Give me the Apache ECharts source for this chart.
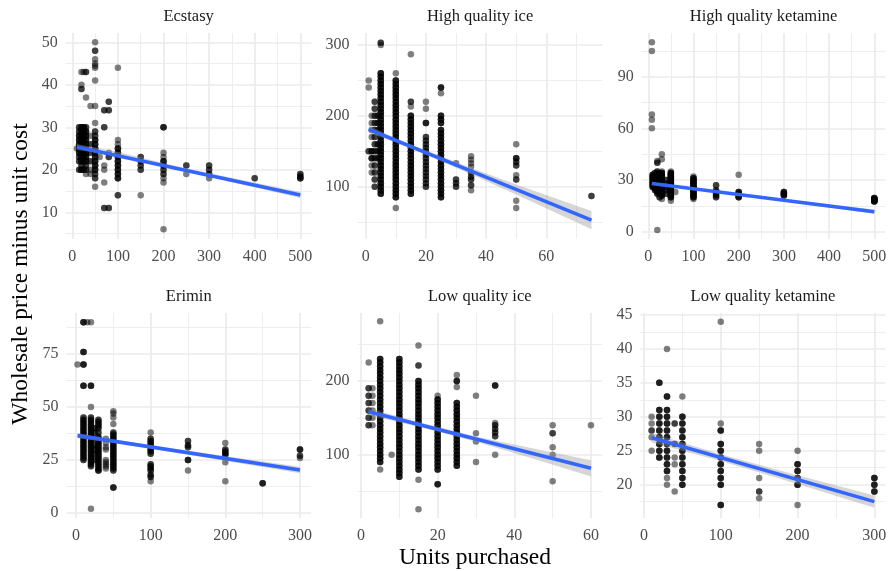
<!DOCTYPE html>
<html><head><meta charset="utf-8">
<script src="https://cdn.jsdelivr.net/npm/echarts@6/dist/echarts.min.js"></script>
<style>html,body{margin:0;padding:0;background:#fff}#c{width:889px;height:571px}</style>
</head><body><div id="c"></div>
<script>
// ---------- text ----------
const panelTitles = ['Ecstasy', 'High quality ice', 'High quality ketamine', 'Erimin', 'Low quality ice', 'Low quality ketamine'];
const xTitle = 'Units purchased';
const yTitle = 'Wholesale price minus unit cost';

// ---------- tick labels ----------
const xMajorTicks = [[0,100,200,300,400,500],[0,20,40,60],[0,100,200,300,400,500],[0,100,200,300],[0,20,40,60],[0,100,200,300]];
const xMinorTicks = [[50,150,250,350,450],[10,30,50,70],[50,150,250,350,450],[50,150,250],[10,30,50],[50,150,250]];
const yMajorTicks = [[10,20,30,40,50],[100,200,300],[0,30,60,90],[0,25,50,75],[100,200],[20,25,30,35,40,45]];
const yMinorTicks = [[5,15,25,35,45],[50,150,250],[15,45,75,105],[12.5,37.5,62.5,87.5],[50,150,250],[17.5,22.5,27.5,32.5,37.5,42.5]];
const xRanges = [[-14.5,524.5],[-2.7,78.7],[-14.5,524.5],[-12.9,314.9],[-0.91,62.9],[-4.5,314.5]];
const yRanges = [[3.8,52.2],[26.6,316.9],[-4.1,115.4],[-2.45,94.4],[13.8,292.4],[15.06,45.31]];

// ---------- points: [units, count of overlapping observations, [prices]] ----------
const ecstasyCols = [
  [10,1,[25]],
  [15,2,[20,22,23,29,30]],[15,3,[24,25,26,27,28]],
  [20,3,[20,22,23,24,25,26,27,28,29,30]],[20,2,[21,39]],[20,1,[40,43]],
  [25,2,[20,22]],[25,3,[23,24,25,26,27,28,29,30]],[25,1,[43]],
  [30,1,[19,37]],[30,2,[20,21,30,43]],[30,3,[22,23,24,25,26,27,28,29]],
  [40,1,[19,20,28,35]],[40,2,[22,24,26]],
  [50,1,[16,31,35,41,44,44.5,45,46,50]],[50,2,[18,19,28,29,48]],[50,3,[20,21,22,23,24,25,26,27]],
  [60,1,[23]],
  [70,2,[11,30,34]],[70,1,[17,20,21]],
  [80,2,[11,23,34,36]],[80,1,[24]],
  [100,2,[14]],[100,3,[18,19,20,21,22,23,24,25]],[100,1,[26,27,44]],
  [150,1,[14]],[150,2,[20,21,22,23]],
  [200,1,[6,17,18,23,24]],[200,2,[19,20]],[200,3,[21,22,30]],
  [250,1,[19]],[250,2,[21]],
  [300,1,[18]],[300,2,[19,20,21]],
  [400,2,[18]],
  [500,3,[18]],[500,2,[18.5,19]]
];
const hqIceCols = [
  [1,1,[240,250]],[1,2,[150]],
  [2,1,[120,130,170,180,190,200]],[2,3,[140,150]],
  [3,2,[100,110,120,130,140,150,160,170,180,190,200,210,220]],
  [4,2,[140,150,160,180,190,200]],
  [5,3,[90,95,100,105,110,115,120,125,130,135,140,145,150,155,160,165,170,175,180,185,190,195,200,205,210,215,220,225,230,235,240,245,250,255,260]],[5,1,[300]],[5,2,[303]],
  [10,3,[85,90,95,100,105,110,115,120,125,130,135,140,145,150,155,160,165,170,175,180,185,190,195,200,205,210,215,220,225,230,235,240,245,250]],[10,1,[70,260]],
  [15,3,[90,95,100,105,110,115,120,125,130,135,140,145,150,155,160,165,170,175,180,185,190,195,200]],[15,2,[220]],[15,1,[213,287]],
  [20,2,[100,105,110,115,120,125,130,135,140,145,150,155,160,165,170]],[20,3,[190]],[20,1,[210,220]],
  [25,3,[85,90,95,100,105,110,115,120,125,130,135,140,145,150,155,160,165,170,175,180,190,195,200,240]],[25,1,[232]],
  [30,1,[133]],[30,2,[100,105,110]],
  [35,1,[95,128,133,138,143]],[35,2,[102,110,114,120]],
  [50,1,[70,80,116,160]],[50,2,[110,130,135]],[50,3,[140]],
  [75,2,[87]]
];
const hqKetCols = [
  [8,1,[60,65,68,105,110]],
  [10,3,[26,27,28,29,30,31,32,33]],
  [15,2,[24,25,26,27,28,29,30,31,32,33,34]],
  [20,2,[22,23,24,25,26,27,28,29,30,31,32,33,34,35,40]],[20,1,[1,41]],
  [25,2,[20,22,24,26,28,30,32]],
  [30,3,[21,22,23,24,25,26,27,28,29,30,31,32,33,34]],[30,1,[19,35,42,45]],
  [40,2,[22,24,26,28,30]],
  [50,3,[20,21,22,23,24,25,26,27,28,29,30,31,32,33,34]],[50,1,[18,35]],
  [60,1,[23]],
  [100,3,[20,21,22,23,24,25,26,27,28,29,30,31]],[100,1,[19,32]],
  [150,2,[20,21,22,23,24,27]],
  [200,1,[33]],[200,3,[20,21,22,23]],
  [300,3,[21,22,23]],
  [500,3,[17.5,18,18.5,19,19.5]]
];
const eriminCols = [
  [2,1,[70]],
  [10,3,[60,70,76,90]],[10,2,[25,26,27,28,29,30,31,32,33,34,35,36,37,38,39,40,41,42,43,44,45]],
  [15,1,[90]],
  [20,1,[2,50,90]],[20,3,[60]],[20,2,[22,23,24,25,26,27,28,29,30,31,32,33,34,35,36,37,38,39,40,41,42,43,44,45]],
  [25,2,[25,28,30,32,35,38,40]],
  [30,2,[21,22,23,24,25,26,27,28,29,30,31,32,33,34,35,36,38,40,41,42,43,44]],[30,3,[20]],
  [40,1,[21,22,23,24,25,30,31,33,35]],
  [50,1,[42,45,47,48]],[50,2,[20,21,22,23,24,25,26,27,28,29,30,31,32,33,34,35,36,37,38]],[50,3,[12]],
  [100,1,[15,38]],[100,2,[17,18,20,21,22,23,28,29,30,31,32,33,34,35]],
  [150,1,[20]],[150,2,[31,32,34]],[150,3,[25]],
  [200,1,[15,24,33]],[200,2,[27.5,28,29,30]],
  [250,3,[14]],
  [300,3,[30]],[300,2,[27]],[300,1,[26]]
];
const lqIceCols = [
  [2,1,[225]],[2,2,[140,150,160,170,180,190]],
  [3,1,[140,150,160,170,180,190]],
  [5,3,[90,95,100,105,110,115,120,125,130,135,140,145,150,155,160,165,170,175,180,185,190,195,200,205,210,215,220,225,230]],[5,1,[80,281]],
  [8,1,[100]],
  [10,3,[70,75,80,85,90,95,100,105,110,115,120,125,130,135,140,145,150,155,160,165,170,175,180,185,190,195,200,205,210,215,220,225,230]],
  [15,3,[80,85,90,95,100,105,110,115,120,125,130,135,140,145,150,155,160,165,170,175,180,185,190,195,200]],[15,2,[221]],[15,1,[26,66,248]],
  [20,3,[60,80,85,90,95,100,105,110,115,120,125,130,135,140,145,150,155,160,165,170,175]],[20,1,[180]],
  [25,3,[85,90,95,100,105,110,115,120,125,130,135,140,145,150,155,160,165,170,200]],[25,1,[192,208]],
  [30,1,[90,118,129,180]],
  [35,3,[194]],[35,2,[125,130,135,140]],[35,1,[100,143]],
  [50,1,[64,100,110,140]],[50,2,[129]],
  [60,1,[140]]
];
const lqKetCols = [
  [10,1,[25,27,29,30]],[10,2,[28]],
  [20,3,[24,25,26,27,28,29,30,31,35]],
  [30,3,[22,23,24,25,26,27,28,29,30,31,33]],[30,1,[20,21,40]],
  [40,2,[26,29]],[40,1,[19,23,24]],
  [50,1,[33]],[50,3,[20,21,22,23,24,25,26,27,28,29,30]],
  [100,1,[29,44]],[100,3,[17,20,21,22,23,24,25,26,28]],
  [150,1,[18,21,25,26]],[150,2,[19]],
  [200,1,[17,25]],[200,3,[20,21,22,23]],
  [300,3,[19,20,21]]
];
const pointCols = [ecstasyCols, hqIceCols, hqKetCols, eriminCols, lqIceCols, lqKetCols];

// ---------- linear fit: [units, fitted] ----------
const fitLines = [
  [[10,25.4],[500,14.1]],
  [[1,181],[75,52.8]],
  [[8,28],[500,11.6]],
  [[2,36.5],[300,20.3]],
  [[2,158.3],[60,81.5]],
  [[10,26.9],[300,17.5]]
];
// ---------- confidence band: [units, lower, upper] ----------
const bands = [
  [[10,24.7,26.1],[100,23.3,24.2],[250,19.6,20.3],[500,13.4,14.8]],
  [[1,176,186],[10,162.4,168.4],[20,145.1,151.1],[35,117.6,126.6],[50,89.1,103.1],[75,39.8,65.8]],
  [[8,27.1,28.9],[100,24.4,25.5],[250,19.4,20.5],[500,10.4,12.8]],
  [[2,35.3,37.7],[50,33.1,34.7],[150,27.5,29.4],[300,18.8,21.8]],
  [[2,153.5,163],[15,138,144.2],[30,117.6,124.8],[45,94.5,108.3],[60,70.5,92.5]],
  [[10,26.2,27.6],[100,23.5,24.5],[200,20.1,21.4],[300,16.6,18.4]]
];

// ---------- layout ----------
const boxes = [
  {left:65.7, top:33, width:245.8, height:205.7},
  {left:357.6, top:33, width:245, height:205.7},
  {left:641.7, top:33, width:243.7, height:205.7},
  {left:66.4, top:312.9, width:244.7, height:205.3},
  {left:357.5, top:312.9, width:244.6, height:205.3},
  {left:640.5, top:312.9, width:245, height:205.3}
];
const FONT = '"Liberation Serif", "Times New Roman", serif';

function expand(cols) {
  const out = [];
  cols.forEach(([x, n, ys]) => ys.forEach(y => { for (let i = 0; i < n; i++) out.push([x, y]); }));
  return out;
}

const grids = [], xAxes = [], yAxes = [], series = [], graphics = [];
boxes.forEach((b, i) => {
  grids.push(Object.assign({containLabel:false, outerBoundsMode:'none'}, b));
  const lbl = {color:'#4D4D4D', fontFamily:FONT, fontSize:16};
  // major axes
  xAxes.push({type:'value', gridIndex:i, min:xRanges[i][0], max:xRanges[i][1],
    axisLine:{show:false}, axisTick:{show:false, customValues:xMajorTicks[i]},
    axisLabel:Object.assign({customValues:xMajorTicks[i], margin:10}, lbl),
    splitLine:{show:true, lineStyle:{color:'#EBEBEB', width:1.7}}, z:1});
  yAxes.push({type:'value', gridIndex:i, min:yRanges[i][0], max:yRanges[i][1],
    axisLine:{show:false}, axisTick:{show:false, customValues:yMajorTicks[i]},
    axisLabel:Object.assign({customValues:yMajorTicks[i], margin:8}, lbl),
    splitLine:{show:true, lineStyle:{color:'#EBEBEB', width:1.7}}, z:1});
  // minor axes (gridlines only)
  xAxes.push({type:'value', gridIndex:i, min:xRanges[i][0], max:xRanges[i][1],
    axisLine:{show:false}, axisTick:{show:false, customValues:xMinorTicks[i]},
    axisLabel:{show:false, customValues:xMinorTicks[i]},
    splitLine:{show:true, lineStyle:{color:'#EBEBEB', width:0.85}}, z:0});
  yAxes.push({type:'value', gridIndex:i, min:yRanges[i][0], max:yRanges[i][1],
    axisLine:{show:false}, axisTick:{show:false, customValues:yMinorTicks[i]},
    axisLabel:{show:false, customValues:yMinorTicks[i]},
    splitLine:{show:true, lineStyle:{color:'#EBEBEB', width:0.85}}, z:0});

  const ax = 2 * i;
  series.push({type:'scatter', xAxisIndex:ax, yAxisIndex:ax, data:expand(pointCols[i]),
    symbol:'circle', symbolSize:6.5, itemStyle:{color:'#000000', opacity:0.5},
    progressive:0, animation:false, z:2, silent:true});
  const band = bands[i];
  series.push({type:'custom', xAxisIndex:ax, yAxisIndex:ax, data:band,
    encode:{x:0, y:[1,2]}, z:3, silent:true, animation:false,
    renderItem:function(params, api){
      if (params.dataIndex !== 0) return null;
      const pts = [];
      band.forEach(r => pts.push(api.coord([r[0], r[2]])));
      for (let k = band.length - 1; k >= 0; k--) pts.push(api.coord([band[k][0], band[k][1]]));
      return {type:'polygon', shape:{points:pts}, style:{fill:'rgba(153,153,153,0.4)', stroke:null}};
    }});
  series.push({type:'line', xAxisIndex:ax, yAxisIndex:ax, data:fitLines[i],
    showSymbol:false, symbol:'none', lineStyle:{color:'#3366FF', width:3.6}, z:4, silent:true, animation:false});

  graphics.push({type:'text', x:b.left + b.width/2, y:b.top - 16.5,
    style:{text:panelTitles[i], fill:'#1A1A1A', font:'16.5px ' + FONT, textAlign:'center', textVerticalAlign:'middle'}});
});

graphics.push({type:'text', x:475, y:558,
  style:{text:xTitle, fill:'#000000', font:'23.5px ' + FONT, textAlign:'center', textVerticalAlign:'middle'}});
graphics.push({type:'text', x:21, y:274, rotation:Math.PI/2,
  style:{text:yTitle, fill:'#000000', font:'23.5px ' + FONT, textAlign:'center', textVerticalAlign:'middle'}});

const chart = echarts.init(document.getElementById('c'), null, {renderer:'canvas'});
chart.setOption({
  backgroundColor:'#FFFFFF',
  animation:false,
  grid:grids, xAxis:xAxes, yAxis:yAxes, series:series, graphic:graphics,
  tooltip:{show:false}
});
</script></body></html>
